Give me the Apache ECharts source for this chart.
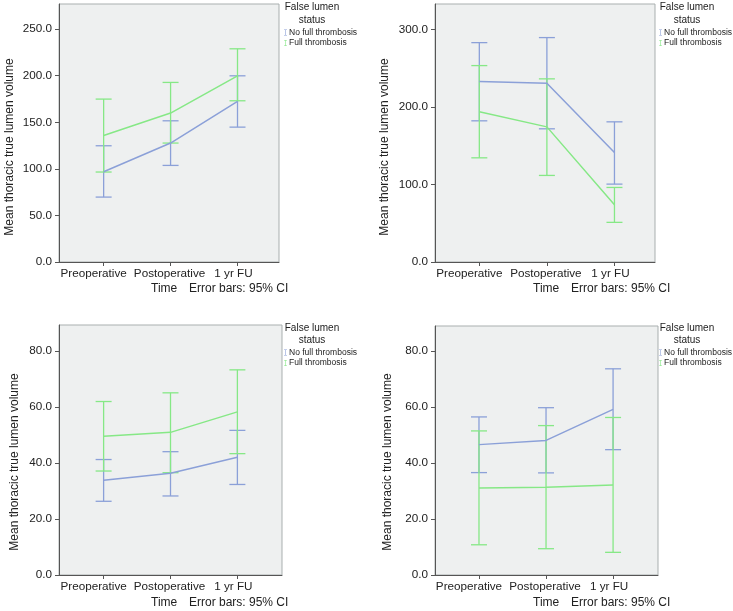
<!DOCTYPE html>
<html><head><meta charset="utf-8">
<script src="https://cdn.jsdelivr.net/npm/echarts@6/dist/echarts.min.js"></script>
<style>html,body{margin:0;padding:0;background:#fff}#c{width:733px;height:611px}</style>
</head><body><div id="c"></div>
<script>
const categories = ['Preoperative', 'Postoperative', '1 yr FU'];
const groupNames = ['No full thrombosis', 'Full thrombosis'];

// Panel 1 (top-left)
const p1NoMean = [96.9, 127.7, 172.4];
const p1NoLow = [69.7, 103.7, 144.8];
const p1NoHigh = [124.8, 151.6, 199.9];
const p1FullMean = [135.9, 159.9, 199.9];
const p1FullLow = [96.6, 127.7, 173.1];
const p1FullHigh = [174.9, 192.8, 228.9];
const p1Ticks = [0, 50, 100, 150, 200, 250];

// Panel 2 (top-right)
const p2NoMean = [232.6, 230.5, 141.2];
const p2NoLow = [182.0, 171.7, 100.4];
const p2NoHigh = [282.8, 289.3, 180.7];
const p2FullMean = [193.6, 174.2, 73.8];
const p2FullLow = [134.3, 111.6, 51.1];
const p2FullHigh = [253.2, 236.1, 96.1];
const p2Ticks = [0, 100, 200, 300];

// Panel 3 (bottom-left)
const p3NoMean = [33.8, 36.3, 42.0];
const p3NoLow = [26.3, 28.2, 32.3];
const p3NoHigh = [41.2, 44.0, 51.6];
const p3FullMean = [49.5, 50.9, 58.2];
const p3FullLow = [37.1, 36.5, 43.3];
const p3FullHigh = [61.9, 65.0, 73.2];
const p3Ticks = [0, 20, 40, 60, 80];

// Panel 4 (bottom-right)
const p4NoMean = [46.6, 48.1, 59.2];
const p4NoLow = [36.6, 36.5, 44.8];
const p4NoHigh = [56.5, 59.8, 73.7];
const p4FullMean = [31.1, 31.4, 32.2];
const p4FullLow = [10.8, 9.4, 8.1];
const p4FullHigh = [51.5, 53.4, 56.3];
const p4Ticks = [0, 20, 40, 60, 80];

const BLUE = '#8ba0d8';
const GREEN = '#86e886';
const FONT = 'Liberation Sans, Arial, sans-serif';
const TXT = '#222';
const catPos = [1, 2, 3];
const LBL = 11.7;

const panels = [
  { grid: {left: 59, top: 4, width: 220, height: 258}, xr: [0.333, 3.62], ymax: 277, ticks: p1Ticks,
    no: [p1NoMean, p1NoLow, p1NoHigh], full: [p1FullMean, p1FullLow, p1FullHigh],
    legend: {left: 284, top: 28}, title: [312, 7.5, 20], yname: [10, 147], foot: [151, 189, 289] },
  { grid: {left: 435, top: 4, width: 220, height: 258}, xr: [0.344, 3.60], ymax: 332.6, ticks: p2Ticks,
    no: [p2NoMean, p2NoLow, p2NoHigh], full: [p2FullMean, p2FullLow, p2FullHigh],
    legend: {left: 659, top: 28}, title: [687, 7.5, 20], yname: [385, 147], foot: [533, 571, 289] },
  { grid: {left: 59, top: 325, width: 223, height: 250}, xr: [0.333, 3.667], ymax: 89.2, ticks: p3Ticks,
    no: [p3NoMean, p3NoLow, p3NoHigh], full: [p3FullMean, p3FullLow, p3FullHigh],
    legend: {left: 284, top: 348}, title: [312, 328, 340], yname: [15, 462], foot: [151, 189, 603] },
  { grid: {left: 435, top: 326, width: 223, height: 249}, xr: [0.344, 3.67], ymax: 89, ticks: p4Ticks,
    no: [p4NoMean, p4NoLow, p4NoHigh], full: [p4FullMean, p4FullLow, p4FullHigh],
    legend: {left: 659, top: 348}, title: [687, 328, 340], yname: [388, 462], foot: [533, 571, 603] }
];

function errRender(params, api) {
  const x = api.value(0);
  const a = api.coord([x, api.value(1)]);
  const b = api.coord([x, api.value(2)]);
  const hw = 8;
  const st = {stroke: api.visual('color'), lineWidth: 1.3};
  return {type: 'group', children: [
    {type: 'line', shape: {x1: a[0], y1: a[1], x2: b[0], y2: b[1]}, style: st},
    {type: 'line', shape: {x1: a[0] - hw, y1: a[1], x2: a[0] + hw, y2: a[1]}, style: st},
    {type: 'line', shape: {x1: b[0] - hw, y1: b[1], x2: b[0] + hw, y2: b[1]}, style: st}
  ]};
}

const grids = [], xAxes = [], yAxes = [], series = [], legends = [], graphics = [];
const ibar = 'path://M0,0h5v1h-2v8h2v1h-5v-1h2v-8h-2z';
const labelRich = {
  pre: {fontSize: LBL, fontFamily: FONT, color: TXT, padding: [0, 20, 0, 0]},
  mid: {fontSize: LBL, fontFamily: FONT, color: TXT, padding: [0, 2, 0, 0]},
  fu: {fontSize: LBL, fontFamily: FONT, color: TXT, padding: [0, 8, 0, 0]}
};
const richKey = ['pre', 'mid', 'fu'];

panels.forEach((p, i) => {
  grids.push(Object.assign({show: true, backgroundColor: '#eef0f0', borderColor: '#a9afaf', borderWidth: 1}, p.grid));
  // main x axis: line, ticks, labels for later time points
  xAxes.push({
    type: 'value', gridIndex: i, min: p.xr[0], max: p.xr[1], position: 'bottom',
    axisLine: {show: true, onZero: false, lineStyle: {color: '#555', width: 1}},
    axisTick: {show: true, length: 4, customValues: catPos, lineStyle: {color: '#555'}},
    axisLabel: {customValues: catPos.slice(1), formatter: v => '{' + richKey[Math.round(v) - 1] + '|' + categories[Math.round(v) - 1] + '}',
      rich: labelRich, margin: 6, hideOverlap: false, showMinLabel: true, showMaxLabel: true},
    splitLine: {show: false}
  });
  yAxes.push({
    type: 'value', gridIndex: i, min: 0, max: p.ymax, position: 'left',
    axisLine: {show: true, onZero: false, lineStyle: {color: '#555', width: 1}},
    axisTick: {show: true, length: 4, customValues: p.ticks, lineStyle: {color: '#555'}},
    axisLabel: {customValues: p.ticks, formatter: v => v.toFixed(1), color: TXT, fontSize: LBL, fontFamily: FONT, margin: 7, showMinLabel: true, showMaxLabel: true},
    splitLine: {show: false}
  });
  [[p.no, BLUE, 0], [p.full, GREEN, 1]].forEach(([d, col, gi]) => {
    series.push({
      type: 'custom', name: groupNames[gi], xAxisIndex: i, yAxisIndex: i, renderItem: errRender,
      itemStyle: {color: col}, encode: {x: 0, y: [1, 2]}, silent: true,
      data: categories.map((c, k) => [catPos[k], d[1][k], d[2][k]])
    });
    series.push({
      type: 'line', name: groupNames[gi], xAxisIndex: i, yAxisIndex: i, showSymbol: false, symbol: 'none',
      itemStyle: {color: col}, lineStyle: {color: col, width: 1.5}, silent: true,
      data: categories.map((c, k) => [catPos[k], d[0][k]])
    });
  });
  legends.push({
    left: p.legend.left, top: p.legend.top, orient: 'vertical', itemGap: 1.5, itemWidth: 3, itemHeight: 8,
    icon: ibar, data: groupNames, selectedMode: false, padding: 0,
    textStyle: {fontSize: 8.5, color: TXT, fontFamily: FONT, padding: [0, 0, 0, -3]}
  });
  graphics.push(
    {type: 'text', x: p.title[0], y: p.title[1], style: {text: 'False lumen', fill: TXT, font: '10px ' + FONT, textAlign: 'center', textVerticalAlign: 'middle'}},
    {type: 'text', x: p.title[0], y: p.title[2], style: {text: 'status', fill: TXT, font: '10px ' + FONT, textAlign: 'center', textVerticalAlign: 'middle'}},
    {type: 'text', x: p.yname[0], y: p.yname[1], rotation: Math.PI / 2, style: {text: 'Mean thoracic true lumen volume', fill: TXT, font: '12px ' + FONT, textAlign: 'center', textVerticalAlign: 'middle'}},
    {type: 'text', x: p.foot[0], y: p.foot[2], style: {text: 'Time', fill: TXT, font: '12px ' + FONT, textAlign: 'left', textVerticalAlign: 'middle'}},
    {type: 'text', x: p.foot[1], y: p.foot[2], style: {text: 'Error bars: 95% CI', fill: TXT, font: '12px ' + FONT, textAlign: 'left', textVerticalAlign: 'middle'}}
  );
});
// secondary x axes (one per grid) carrying only the first time-point label
panels.forEach((p, i) => {
  xAxes.push({
    type: 'value', gridIndex: i, min: p.xr[0], max: p.xr[1], position: 'bottom', offset: 0,
    axisLine: {show: false, onZero: false}, axisTick: {show: false}, splitLine: {show: false},
    axisLabel: {customValues: catPos.slice(0, 1), formatter: v => '{pre|' + categories[Math.round(v) - 1] + '}',
      rich: labelRich, margin: 6, showMinLabel: true, showMaxLabel: true}
  });
});

const chart = echarts.init(document.getElementById('c'), null, {renderer: 'canvas'});
chart.setOption({
  animation: false,
  grid: grids, xAxis: xAxes, yAxis: yAxes, series: series, legend: legends, graphic: graphics
});
</script></body></html>
